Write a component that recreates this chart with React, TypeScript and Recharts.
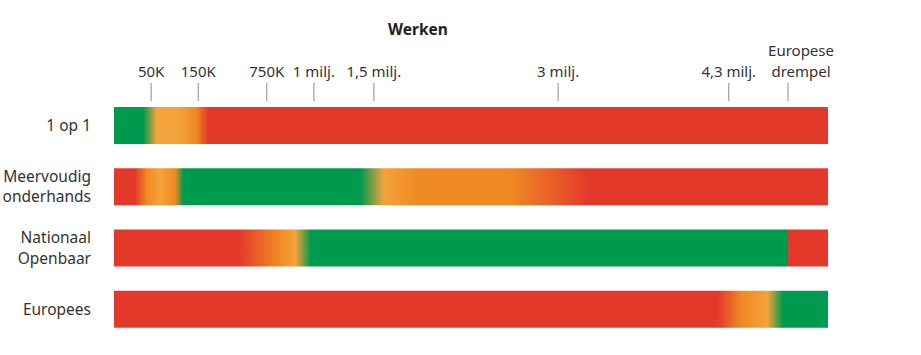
import { BarChart, Bar, XAxis, YAxis, Cell } from "recharts";

// categories (rows) and the length of each bar on the (illustrative) value scale
const categories = ["1 op 1", "Meervoudig\nonderhands", "Nationaal\nOpenbaar", "Europees"];
const barEnds = [100, 100, 100, 100];

// top axis: tick values on the scale and their labels
const tickValues = [5.2, 11.8, 21.4, 28.0, 36.4, 62.2, 86.1, 94.4];
const tickLabels = ["50K", "150K", "750K", "1 milj.", "1,5 milj.", "3 milj.", "4,3 milj.", "Europese\ndrempel"];

// colour zones along every bar: [value on scale, zone]
const zones1op1: [number, string][] = [
	[0, "groen"], [4.1, "groen"], [6.0, "lichtoranje"], [9.2, "lichtoranje"], [11.5, "oranje"], [13.2, "rood"], [100, "rood"],
];
const zonesMeervoudig: [number, string][] = [
	[0, "rood"], [2.9, "rood"], [4.6, "oranje"], [6.5, "lichtoranje"], [8.6, "oranje"], [9.7, "groen"],
	[34.5, "groen"], [37.8, "lichtoranje"], [42.5, "oranje"], [55.2, "oranje"], [66.5, "rood"], [100, "rood"],
];
const zonesNationaal: [number, string][] = [
	[0, "rood"], [17.4, "rood"], [23.2, "oranje"], [25.4, "lichtoranje"], [27.6, "groen"],
	[94.4, "groen"], [94.4, "rood"], [100, "rood"],
];
const zonesEuropees: [number, string][] = [
	[0, "rood"], [84.5, "rood"], [88.0, "oranje"], [91.5, "lichtoranje"], [93.7, "groen"], [100, "groen"],
];
const rowZones = [zones1op1, zonesMeervoudig, zonesNationaal, zonesEuropees];

const zoneColors: Record<string, string> = {
	groen: "#009A4E",
	rood: "#E3392B",
	oranje: "#EF8A22",
	lichtoranje: "#F4A23C",
};

const SCALE_MAX = 100;
const FONT = "'Noto Sans', 'Open Sans', sans-serif";

if (typeof document !== "undefined") document.body.style.margin = "0";

const data = categories.map((name, i) => ({ name, end: barEnds[i] }));

const TopTick = (props: any) => {
	const { x, y, payload } = props;
	const idx = tickValues.indexOf(payload.value);
	const lines = (tickLabels[idx] || "").split("\n");
	const shift = lines.length > 1 ? 13 : 0;
	return (
		<g>
			<line x1={x} x2={x} y1={y - 12} y2={y + 6} stroke="#8a8a8a" strokeWidth={1} />
			<text x={x + shift} y={y - 18} textAnchor="middle" fontSize={15} fill="#333" fontFamily={FONT}>
				{lines.map((l, i) => (
					<tspan key={i} x={x + shift} dy={i === 0 ? -(lines.length - 1) * 21 : 21}>
						{l}
					</tspan>
				))}
			</text>
		</g>
	);
};

const RowTick = (props: any) => {
	const { x, y, payload } = props;
	const lines = String(payload.value).split("\n");
	const first = lines.length > 1 ? -5.2 : 5.3;
	return (
		<text x={x} y={y + first} textAnchor="end" fontSize={15.5} fill="#333" fontFamily={FONT}>
			{lines.map((l, i) => (
				<tspan key={i} x={x} dy={i === 0 ? 0 : 20.8}>
					{l}
				</tspan>
			))}
		</text>
	);
};

export default function App() {
	return (
		<div style={{ position: "relative", width: 921, height: 355, background: "#fff" }}>
			<div
				style={{
					position: "absolute",
					left: 0,
					top: 19,
					width: 836,
					textAlign: "center",
					fontFamily: FONT,
					fontWeight: 700,
					fontSize: 15.5,
					lineHeight: "20px",
					color: "#222",
				}}
			>
				Werken
			</div>
			<BarChart
				width={921}
				height={355}
				data={data}
				layout="vertical"
				margin={{ top: 65, right: 93, bottom: 15, left: 0 }}
			>
				<defs>
					{rowZones.map((stops, r) => (
						<linearGradient key={r} id={`zone-${r}`} x1="0" y1="0" x2="1" y2="0">
							{stops.map(([v, z], k) => (
								<stop key={k} offset={v / SCALE_MAX} stopColor={zoneColors[z]} />
							))}
						</linearGradient>
					))}
				</defs>
				<XAxis
					type="number"
					orientation="top"
					domain={[0, SCALE_MAX]}
					ticks={tickValues}
					interval={0}
					height={30}
					axisLine={false}
					tickLine={false}
					tickSize={0}
					tickMargin={0}
					tick={<TopTick />}
				/>
				<YAxis
					type="category"
					dataKey="name"
					width={114}
					axisLine={false}
					tickLine={false}
					tickSize={0}
					tickMargin={23}
					interval={0}
					tick={<RowTick />}
				/>
				<Bar dataKey="end" barSize={37} isAnimationActive={false}>
					{data.map((_, i) => (
						<Cell key={i} fill={`url(#zone-${i})`} />
					))}
				</Bar>
			</BarChart>
		</div>
	);
}
